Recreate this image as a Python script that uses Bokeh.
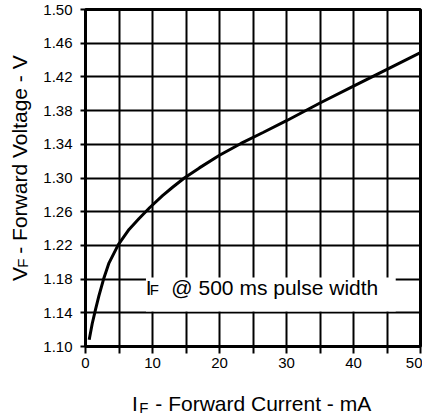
import math
from bokeh.plotting import figure
from bokeh.models import Range1d, FixedTicker, Label, BoxAnnotation, PrintfTickFormatter
from bokeh.layouts import row, column
from bokeh.core.properties import value
from bokeh.embed import file_html
from bokeh.resources import INLINE

# ---- data ----
current_ma = [0.55, 1.0, 1.5, 2.0, 2.7, 3.5, 4.9, 6.5, 8.0, 9.6, 11.5, 13.0,
              14.75, 17.0, 20.0, 23.2, 26.5, 30.0, 35.0, 40.0, 45.0, 50.0]
forward_v = [1.108, 1.127, 1.144, 1.160, 1.180, 1.199, 1.221, 1.239, 1.252, 1.265,
             1.279, 1.289, 1.300, 1.312, 1.327, 1.341, 1.354, 1.368, 1.389, 1.409,
             1.429, 1.449]
x_ticks = [0, 5, 10, 15, 20, 25, 30, 35, 40, 45, 50]
x_tick_labels = ["0", "", "10", "", "20", "", "30", "", "40", "", "50"]
y_ticks = [1.10, 1.14, 1.18, 1.22, 1.26, 1.30, 1.34, 1.38, 1.42, 1.46, 1.50]

x_title = ["I", "F", "- Forward Current - mA"]
y_title = ["V", "F", "- Forward Voltage - V"]
note = ["I", "F", "@ 500 ms pulse width"]

FONT = "Liberation Sans"

# ---- layout geometry (page pixels, page origin = canvas origin) ----
TOTAL_W, TOTAL_H = 422, 418
Y_W = 40
MAIN_W = TOTAL_W - Y_W
MAIN_H = 376
X_H = TOTAL_H - MAIN_H
FL, FR, FT, FB = 82, 420, 9, 346   # frame edges on the page

p = figure(width=MAIN_W, height=MAIN_H, output_backend="svg", toolbar_location=None,
           x_range=Range1d(0, 50), y_range=Range1d(1.10, 1.50),
           min_border_left=FL - Y_W, min_border_right=TOTAL_W - FR,
           min_border_top=FT, min_border_bottom=MAIN_H - FB)
p.background_fill_color = "white"
p.border_fill_color = "white"
p.outline_line_color = "black"
p.outline_line_width = 3

p.xaxis.ticker = FixedTicker(ticks=x_ticks)
p.xaxis.major_label_overrides = {t: l for t, l in zip(x_ticks, x_tick_labels)}
p.yaxis.ticker = FixedTicker(ticks=y_ticks)
p.yaxis.formatter = PrintfTickFormatter(format="%.2f")
for ax in (p.xaxis, p.yaxis):
    ax.axis_line_width = 3
    ax.axis_line_color = "black"
    ax.major_tick_line_width = 2
    ax.major_tick_line_color = "black"
    ax.major_tick_in = 0
    ax.minor_tick_line_color = None
    ax.major_label_text_font = FONT
    ax.major_label_text_font_size = "15px"
    ax.major_label_text_color = "black"
p.xaxis.major_tick_out = 7
p.xaxis.major_label_standoff = 4
p.yaxis.major_tick_out = 5
p.yaxis.major_label_standoff = 8

p.xgrid.ticker = FixedTicker(ticks=x_ticks)
p.ygrid.ticker = FixedTicker(ticks=y_ticks)
for g in (p.xgrid, p.ygrid):
    g.grid_line_color = "black"
    g.grid_line_width = 2
    g.grid_line_alpha = 1

p.line(current_ma, forward_v, line_color="black", line_width=3)

def DX(px):
    return (px - FL) / (FR - FL) * 50

def DY(py):
    return 1.10 + (FB - py) / (FB - FT) * 0.4

def lab(x, y, text, size, xo=0, yo=0):
    return Label(x=x, y=y, text=text, text_font=FONT, text_font_size=f"{size}px",
                 text_color="black", x_offset=xo, y_offset=yo,
                 text_align="left", text_baseline="middle")

# note box inside the plot (y given as cap-centre of the text)
p.add_layout(BoxAnnotation(left=DX(143), right=DX(395), top=DY(277), bottom=DY(311),
                           fill_color="white", fill_alpha=1, line_color=None))
nx, ny = DX(142.7), DY(286.5)
p.add_layout(lab(nx, ny, note[0], 21))
p.add_layout(lab(nx, ny, note[1], 15, xo=4.1, yo=-2.7))
p.add_layout(lab(nx, ny, note[2], 21, xo=25.7))

# ---- strips that carry the axis titles ----
def strip(w, h):
    f = figure(width=w, height=h, output_backend="svg", toolbar_location=None,
               x_range=Range1d(0, w), y_range=Range1d(0, h),
               x_axis_type=None, y_axis_type=None, min_border=0)
    f.outline_line_color = None
    f.grid.visible = False
    f.background_fill_color = "white"
    f.border_fill_color = "white"
    return f

def put(f, x, y, text, size, angle=0.0):
    f.text(x=[x], y=[y], text=[text], text_font=value(FONT), text_font_size=f"{size}px",
           angle=angle, text_align="left", text_baseline="middle", text_color="black")

# x title strip: page x 0..422, page y MAIN_H..418 (y = cap centre)
xs = strip(TOTAL_W, X_H)
def xs_y(py): return TOTAL_H - py
mid = 403
put(xs, 131.5, xs_y(mid), x_title[0], 21)
put(xs, 138.8, xs_y(mid + 3.5), x_title[1], 15)
put(xs, 154.8, xs_y(mid), x_title[2], 21)

# y title strip: page x 0..Y_W, page y 0..MAIN_H (x = cap centre of rotated text)
ys = strip(Y_W, MAIN_H)
def ys_y(py): return MAIN_H - py
cx = 19
put(ys, cx, ys_y(303), y_title[0], 21, math.pi / 2)
put(ys, cx + 2.5, ys_y(288.2), y_title[1], 15, math.pi / 2)
put(ys, cx, ys_y(272.5), y_title[2], 21, math.pi / 2)

layout = column(row(ys, p, spacing=0), xs, spacing=0)
open("out.html", "w").write(file_html(layout, INLINE))
